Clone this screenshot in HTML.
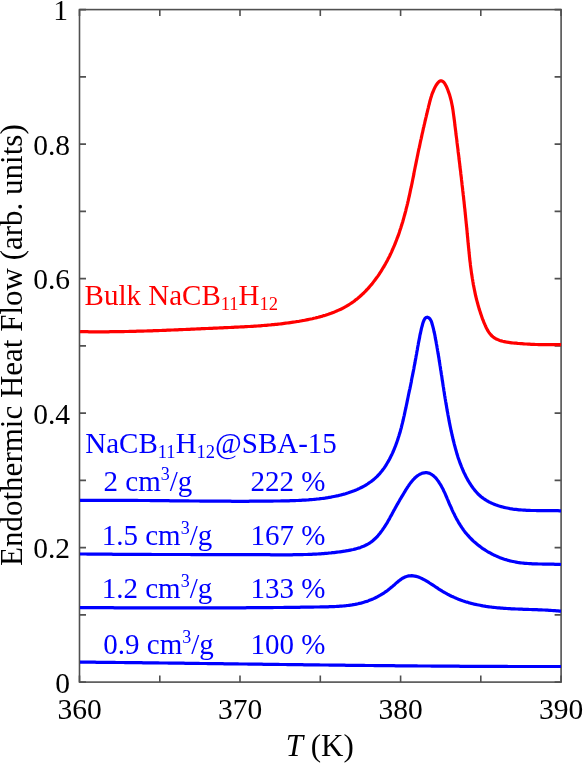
<!DOCTYPE html>
<html><head><meta charset="utf-8"><style>
html,body{margin:0;padding:0;background:#fff;width:583px;height:763px;overflow:hidden}
svg{position:absolute;left:0;top:0;will-change:transform}
.t{position:absolute;font-family:"Liberation Serif",serif;white-space:nowrap;line-height:1;color:#000}
sub,sup{line-height:0}
</style></head><body>
<svg width="583" height="763" viewBox="0 0 583 763" style="font-family:&quot;Liberation Serif&quot;,serif"><rect x="79.5" y="9.6" width="481.6" height="672.5" fill="none" stroke="#505050" stroke-width="1.6"/>
<path d="M79.5,682.1v-6.5M79.5,9.6v6.5M159.8,682.1v-6.5M159.8,9.6v6.5M240.0,682.1v-6.5M240.0,9.6v6.5M320.3,682.1v-6.5M320.3,9.6v6.5M400.6,682.1v-6.5M400.6,9.6v6.5M480.8,682.1v-6.5M480.8,9.6v6.5M561.1,682.1v-6.5M561.1,9.6v6.5M79.5,682.1h6.5M561.1,682.1h-6.5M79.5,614.9h6.5M561.1,614.9h-6.5M79.5,547.6h6.5M561.1,547.6h-6.5M79.5,480.4h6.5M561.1,480.4h-6.5M79.5,413.1h6.5M561.1,413.1h-6.5M79.5,345.9h6.5M561.1,345.9h-6.5M79.5,278.6h6.5M561.1,278.6h-6.5M79.5,211.4h6.5M561.1,211.4h-6.5M79.5,144.1h6.5M561.1,144.1h-6.5M79.5,76.9h6.5M561.1,76.9h-6.5M79.5,9.6h6.5M561.1,9.6h-6.5" stroke="#505050" stroke-width="1.6" fill="none"/>
<path d="M80.0,331.6 81.5,331.7 83.0,331.7 84.5,331.7 86.0,331.7 87.5,331.7 89.0,331.8 90.5,331.8 92.0,331.8 93.6,331.8 95.1,331.8 96.6,331.8 98.1,331.8 99.6,331.8 101.1,331.8 102.6,331.8 104.1,331.8 105.6,331.8 107.1,331.8 108.6,331.8 110.1,331.7 111.6,331.7 113.1,331.7 114.6,331.7 116.1,331.7 117.6,331.7 119.1,331.6 120.6,331.6 122.1,331.6 123.6,331.6 125.1,331.5 126.6,331.5 128.1,331.5 129.6,331.4 131.1,331.4 132.6,331.4 134.1,331.3 135.6,331.3 137.1,331.2 138.6,331.2 140.1,331.2 141.6,331.1 143.2,331.1 144.7,331.0 146.2,331.0 147.7,330.9 149.2,330.9 150.7,330.8 152.2,330.8 153.7,330.7 155.2,330.7 156.7,330.6 158.2,330.6 159.7,330.5 161.2,330.5 162.7,330.4 164.2,330.3 165.7,330.3 167.2,330.2 168.7,330.2 170.2,330.1 171.7,330.0 173.2,330.0 174.7,329.9 176.2,329.9 177.7,329.8 179.2,329.7 180.7,329.7 182.2,329.6 183.7,329.5 185.2,329.5 186.7,329.4 188.2,329.3 189.7,329.3 191.2,329.2 192.7,329.1 194.2,329.1 195.7,329.0 197.2,328.9 198.7,328.9 200.2,328.8 201.7,328.7 203.2,328.7 204.7,328.6 206.2,328.5 207.7,328.5 209.2,328.4 210.7,328.3 212.2,328.3 213.7,328.2 215.2,328.1 216.8,328.1 218.3,328.0 219.8,327.9 221.3,327.9 222.8,327.8 224.3,327.7 225.8,327.7 227.3,327.6 228.8,327.5 230.3,327.5 231.8,327.4 233.3,327.3 234.8,327.2 236.3,327.2 237.8,327.1 239.3,327.0 240.8,326.9 242.3,326.9 243.8,326.8 245.3,326.7 246.8,326.6 248.3,326.5 249.8,326.5 251.3,326.4 252.8,326.3 254.3,326.2 255.8,326.1 257.3,326.0 258.8,325.9 260.3,325.8 261.8,325.6 263.3,325.5 264.8,325.4 266.3,325.3 267.8,325.1 269.3,325.0 270.8,324.9 272.3,324.7 273.8,324.6 275.3,324.4 276.8,324.3 278.2,324.1 279.7,324.0 281.2,323.8 282.7,323.6 284.2,323.4 285.7,323.2 287.2,323.0 288.7,322.8 290.2,322.6 291.7,322.4 293.2,322.2 294.6,322.0 296.1,321.7 297.6,321.5 299.1,321.3 300.6,321.0 302.1,320.7 303.5,320.5 305.0,320.2 306.5,319.9 308.0,319.6 309.4,319.3 310.9,319.0 312.4,318.7 313.8,318.3 315.3,318.0 316.8,317.6 318.2,317.3 319.7,316.9 321.1,316.5 322.6,316.1 324.0,315.6 325.4,315.2 326.9,314.7 328.3,314.3 329.7,313.8 331.1,313.3 332.5,312.7 333.9,312.2 335.3,311.6 336.7,311.0 338.1,310.4 339.5,309.8 340.8,309.2 342.2,308.5 343.5,307.8 344.8,307.1 346.1,306.4 347.4,305.6 348.7,304.8 350.0,304.0 351.3,303.2 352.5,302.3 353.7,301.5 354.9,300.6 356.1,299.6 357.3,298.7 358.4,297.8 359.6,296.8 360.7,295.8 361.8,294.8 362.9,293.7 364.0,292.7 365.1,291.6 366.1,290.5 367.1,289.5 368.2,288.3 369.2,287.2 370.1,286.1 371.1,284.9 372.1,283.8 373.0,282.6 373.9,281.4 374.8,280.2 375.7,279.0 376.6,277.8 377.5,276.6 378.4,275.3 379.2,274.1 380.0,272.8 380.8,271.6 381.6,270.3 382.4,269.0 383.2,267.7 384.0,266.5 384.7,265.1 385.5,263.8 386.2,262.5 386.9,261.2 387.6,259.9 388.3,258.5 389.0,257.2 389.7,255.9 390.3,254.5 391.0,253.1 391.6,251.8 392.2,250.4 392.8,249.0 393.4,247.7 394.0,246.3 394.6,244.9 395.2,243.5 395.7,242.1 396.3,240.7 396.8,239.3 397.3,237.9 397.9,236.5 398.4,235.1 398.9,233.7 399.4,232.2 399.8,230.8 400.3,229.4 400.8,228.0 401.2,226.5 401.7,225.1 402.1,223.6 402.6,222.2 403.0,220.8 403.4,219.3 403.8,217.9 404.2,216.4 404.6,215.0 405.0,213.5 405.4,212.1 405.8,210.6 406.1,209.2 406.5,207.7 406.9,206.2 407.2,204.8 407.6,203.3 407.9,201.9 408.3,200.4 408.6,198.9 408.9,197.5 409.3,196.0 409.6,194.5 409.9,193.1 410.2,191.6 410.5,190.1 410.8,188.6 411.2,187.2 411.5,185.7 411.8,184.2 412.1,182.8 412.4,181.3 412.7,179.8 413.0,178.3 413.3,176.9 413.6,175.4 413.9,173.9 414.1,172.4 414.4,171.0 414.7,169.5 415.0,168.0 415.3,166.5 415.6,165.1 415.9,163.6 416.2,162.1 416.5,160.7 416.8,159.2 417.1,157.7 417.4,156.2 417.7,154.8 418.0,153.3 418.3,151.8 418.6,150.3 418.9,148.9 419.3,147.4 419.6,145.9 419.9,144.5 420.2,143.0 420.5,141.5 420.8,140.1 421.2,138.6 421.5,137.1 421.8,135.7 422.1,134.2 422.5,132.7 422.8,131.2 423.1,129.8 423.4,128.3 423.8,126.9 424.1,125.4 424.5,123.9 424.8,122.5 425.1,121.0 425.5,119.5 425.8,118.1 426.2,116.6 426.5,115.1 426.9,113.7 427.2,112.2 427.6,110.8 427.9,109.3 428.3,107.8 428.6,106.4 429.0,104.9 429.4,103.5 429.7,102.0 430.1,100.5 430.5,99.1 430.9,97.6 431.4,96.2 431.8,94.8 432.3,93.4 432.9,92.0 433.5,90.6 434.1,89.2 434.7,87.9 435.4,86.5 436.2,85.2 437.0,84.0 437.9,82.8 439.0,81.7 440.3,80.9 441.7,80.8 443.1,81.6 444.1,82.6 445.0,83.9 445.7,85.2 446.4,86.5 447.0,87.9 447.6,89.3 448.1,90.7 448.6,92.1 449.1,93.5 449.6,94.9 450.0,96.4 450.4,97.8 450.8,99.3 451.2,100.7 451.5,102.2 451.8,103.7 452.1,105.2 452.4,106.6 452.6,108.1 452.9,109.6 453.1,111.1 453.3,112.6 453.5,114.1 453.7,115.6 453.9,117.0 454.1,118.5 454.3,120.0 454.5,121.5 454.7,123.0 454.8,124.5 455.0,126.0 455.2,127.5 455.4,129.0 455.6,130.5 455.8,132.0 455.9,133.5 456.1,134.9 456.3,136.4 456.5,137.9 456.7,139.4 456.9,140.9 457.0,142.4 457.2,143.9 457.4,145.4 457.6,146.9 457.8,148.4 458.0,149.9 458.1,151.4 458.3,152.8 458.5,154.3 458.7,155.8 458.9,157.3 459.0,158.8 459.2,160.3 459.4,161.8 459.6,163.3 459.8,164.8 459.9,166.3 460.1,167.8 460.3,169.3 460.5,170.8 460.7,172.3 460.8,173.7 461.0,175.2 461.2,176.7 461.4,178.2 461.5,179.7 461.7,181.2 461.9,182.7 462.0,184.2 462.2,185.7 462.4,187.2 462.6,188.7 462.7,190.2 462.9,191.7 463.1,193.2 463.2,194.7 463.4,196.1 463.6,197.6 463.7,199.1 463.9,200.6 464.1,202.1 464.2,203.6 464.4,205.1 464.5,206.6 464.7,208.1 464.9,209.6 465.0,211.1 465.2,212.6 465.3,214.1 465.5,215.6 465.6,217.1 465.8,218.6 465.9,220.1 466.1,221.6 466.2,223.1 466.4,224.6 466.5,226.1 466.7,227.5 466.8,229.0 467.0,230.5 467.1,232.0 467.2,233.5 467.4,235.0 467.5,236.5 467.7,238.0 467.8,239.5 467.9,241.0 468.1,242.5 468.2,244.0 468.4,245.5 468.5,247.0 468.7,248.5 468.8,250.0 469.0,251.5 469.1,253.0 469.3,254.5 469.4,256.0 469.6,257.5 469.7,259.0 469.9,260.5 470.1,262.0 470.3,263.4 470.4,264.9 470.6,266.4 470.8,267.9 471.0,269.4 471.2,270.9 471.4,272.4 471.6,273.9 471.9,275.4 472.1,276.9 472.3,278.3 472.6,279.8 472.8,281.3 473.1,282.8 473.3,284.3 473.6,285.7 473.9,287.2 474.2,288.7 474.5,290.2 474.8,291.6 475.1,293.1 475.4,294.6 475.7,296.0 476.1,297.5 476.4,299.0 476.8,300.4 477.2,301.9 477.6,303.3 478.0,304.8 478.4,306.2 478.8,307.7 479.2,309.1 479.7,310.5 480.2,312.0 480.6,313.4 481.1,314.8 481.6,316.2 482.1,317.7 482.6,319.1 483.2,320.5 483.7,321.9 484.3,323.3 484.9,324.7 485.5,326.0 486.1,327.4 486.8,328.7 487.5,330.1 488.3,331.4 489.1,332.6 490.0,333.8 491.0,335.0 492.0,336.0 493.2,337.0 494.4,337.9 495.7,338.7 497.0,339.3 498.4,339.9 499.8,340.5 501.2,340.9 502.7,341.3 504.1,341.6 505.6,341.9 507.1,342.2 508.6,342.4 510.1,342.6 511.6,342.8 513.1,343.0 514.6,343.1 516.1,343.2 517.6,343.4 519.1,343.5 520.6,343.6 522.0,343.7 523.5,343.8 525.0,344.0 526.5,344.0 528.0,344.1 529.6,344.2 531.1,344.3 532.6,344.4 534.1,344.4 535.6,344.5 537.1,344.5 538.6,344.6 540.1,344.6 541.6,344.6 543.1,344.7 544.6,344.7 546.1,344.7 547.6,344.7 549.1,344.7 550.6,344.7 552.1,344.7 553.6,344.7 555.1,344.7 556.6,344.7 558.1,344.7 559.6,344.7 561.1,344.7" stroke="#ff0000" stroke-width="3.2" fill="none" stroke-linejoin="round" stroke-linecap="butt"/>
<path d="M80.0,500.4 81.5,500.4 83.0,500.4 84.5,500.4 86.0,500.4 87.5,500.4 89.0,500.4 90.5,500.4 92.0,500.3 93.5,500.3 95.1,500.3 96.6,500.3 98.1,500.3 99.6,500.3 101.1,500.3 102.6,500.3 104.1,500.3 105.6,500.3 107.1,500.3 108.6,500.3 110.1,500.3 111.6,500.3 113.1,500.3 114.6,500.3 116.1,500.3 117.6,500.3 119.1,500.3 120.6,500.3 122.1,500.3 123.6,500.4 125.1,500.4 126.6,500.4 128.1,500.4 129.6,500.4 131.1,500.4 132.6,500.4 134.1,500.4 135.6,500.4 137.2,500.4 138.7,500.5 140.2,500.5 141.7,500.5 143.2,500.5 144.7,500.5 146.2,500.5 147.7,500.5 149.2,500.5 150.7,500.6 152.2,500.6 153.7,500.6 155.2,500.6 156.7,500.6 158.2,500.6 159.7,500.6 161.2,500.7 162.7,500.7 164.2,500.7 165.7,500.7 167.2,500.7 168.7,500.7 170.2,500.8 171.7,500.8 173.2,500.8 174.7,500.8 176.2,500.8 177.7,500.8 179.3,500.9 180.8,500.9 182.3,500.9 183.8,500.9 185.3,500.9 186.8,500.9 188.3,500.9 189.8,501.0 191.3,501.0 192.8,501.0 194.3,501.0 195.8,501.0 197.3,501.0 198.8,501.0 200.3,501.1 201.8,501.1 203.3,501.1 204.8,501.1 206.3,501.1 207.8,501.1 209.3,501.1 210.8,501.1 212.3,501.2 213.8,501.2 215.3,501.2 216.8,501.2 218.3,501.2 219.8,501.2 221.4,501.2 222.9,501.2 224.4,501.2 225.9,501.2 227.4,501.2 228.9,501.2 230.4,501.2 231.9,501.3 233.4,501.3 234.9,501.3 236.4,501.3 237.9,501.3 239.4,501.3 240.9,501.3 242.4,501.3 243.9,501.3 245.4,501.3 246.9,501.3 248.4,501.3 249.9,501.2 251.4,501.2 252.9,501.2 254.4,501.2 255.9,501.2 257.4,501.2 258.9,501.2 260.4,501.2 261.9,501.2 263.5,501.2 265.0,501.2 266.5,501.1 268.0,501.1 269.5,501.1 271.0,501.1 272.5,501.1 274.0,501.0 275.5,501.0 277.0,501.0 278.5,501.0 280.0,501.0 281.5,500.9 283.0,500.9 284.5,500.9 286.0,500.8 287.5,500.8 289.0,500.8 290.5,500.7 292.0,500.7 293.5,500.6 295.0,500.6 296.5,500.5 298.0,500.5 299.5,500.4 301.0,500.3 302.5,500.2 304.0,500.2 305.5,500.1 307.0,500.0 308.5,499.9 310.0,499.7 311.5,499.6 313.0,499.5 314.5,499.3 316.0,499.2 317.5,499.0 319.0,498.9 320.5,498.7 322.0,498.5 323.5,498.3 325.0,498.1 326.5,497.8 327.9,497.6 329.4,497.3 330.9,497.1 332.4,496.8 333.9,496.5 335.3,496.2 336.8,495.9 338.3,495.6 339.7,495.2 341.2,494.9 342.6,494.5 344.1,494.1 345.5,493.7 347.0,493.2 348.4,492.8 349.8,492.3 351.3,491.8 352.7,491.3 354.1,490.8 355.5,490.2 356.9,489.6 358.2,489.0 359.6,488.4 360.9,487.7 362.3,487.0 363.6,486.3 364.9,485.6 366.2,484.8 367.5,484.0 368.7,483.2 370.0,482.3 371.2,481.5 372.4,480.5 373.6,479.6 374.7,478.6 375.8,477.6 376.9,476.6 378.0,475.5 379.0,474.4 380.0,473.3 381.0,472.1 381.9,471.0 382.8,469.8 383.7,468.6 384.6,467.3 385.4,466.1 386.2,464.8 387.0,463.5 387.8,462.2 388.5,460.9 389.3,459.6 390.0,458.3 390.6,456.9 391.3,455.6 392.0,454.2 392.6,452.9 393.2,451.5 393.8,450.1 394.4,448.7 394.9,447.3 395.5,445.9 396.0,444.5 396.5,443.1 397.0,441.7 397.5,440.3 398.0,438.9 398.4,437.4 398.9,436.0 399.3,434.5 399.8,433.1 400.2,431.7 400.6,430.2 401.0,428.8 401.4,427.3 401.7,425.9 402.1,424.4 402.5,422.9 402.8,421.5 403.2,420.0 403.5,418.5 403.8,417.1 404.2,415.6 404.5,414.1 404.8,412.7 405.1,411.2 405.4,409.7 405.8,408.3 406.1,406.8 406.4,405.3 406.7,403.9 407.0,402.4 407.3,400.9 407.6,399.4 407.9,398.0 408.2,396.5 408.5,395.0 408.8,393.5 409.1,392.1 409.4,390.6 409.8,389.1 410.1,387.7 410.4,386.2 410.7,384.7 411.0,383.2 411.3,381.8 411.5,380.3 411.8,378.8 412.1,377.3 412.4,375.9 412.7,374.4 413.0,372.9 413.3,371.4 413.6,370.0 413.9,368.5 414.1,367.0 414.4,365.5 414.7,364.1 415.0,362.6 415.2,361.1 415.5,359.6 415.8,358.1 416.0,356.7 416.3,355.2 416.6,353.7 416.8,352.2 417.1,350.7 417.4,349.3 417.6,347.8 417.9,346.3 418.2,344.8 418.4,343.3 418.7,341.9 419.0,340.4 419.3,338.9 419.6,337.4 419.8,336.0 420.1,334.5 420.5,333.0 420.8,331.5 421.1,330.1 421.4,328.6 421.8,327.1 422.2,325.7 422.6,324.2 423.0,322.8 423.5,321.4 424.1,320.0 424.8,318.7 425.9,317.6 427.3,317.2 428.7,317.7 429.8,318.7 430.6,320.0 431.3,321.3 431.8,322.8 432.2,324.2 432.6,325.6 433.0,327.1 433.4,328.6 433.7,330.0 434.0,331.5 434.4,333.0 434.7,334.4 435.0,335.9 435.2,337.4 435.5,338.9 435.8,340.3 436.1,341.8 436.3,343.3 436.6,344.8 436.9,346.3 437.1,347.7 437.4,349.2 437.6,350.7 437.9,352.2 438.1,353.7 438.4,355.1 438.6,356.6 438.9,358.1 439.1,359.6 439.3,361.1 439.6,362.6 439.8,364.1 440.0,365.5 440.3,367.0 440.5,368.5 440.7,370.0 441.0,371.5 441.2,373.0 441.4,374.5 441.7,375.9 441.9,377.4 442.1,378.9 442.3,380.4 442.6,381.9 442.8,383.4 443.0,384.9 443.2,386.3 443.5,387.8 443.7,389.3 443.9,390.8 444.2,392.3 444.4,393.8 444.6,395.3 444.9,396.7 445.1,398.2 445.4,399.7 445.6,401.2 445.9,402.7 446.1,404.2 446.4,405.6 446.6,407.1 446.9,408.6 447.1,410.1 447.4,411.6 447.7,413.0 447.9,414.5 448.2,416.0 448.5,417.5 448.8,419.0 449.0,420.4 449.3,421.9 449.6,423.4 449.9,424.9 450.2,426.3 450.5,427.8 450.8,429.3 451.1,430.8 451.5,432.2 451.8,433.7 452.1,435.2 452.5,436.6 452.8,438.1 453.1,439.5 453.5,441.0 453.9,442.5 454.2,443.9 454.6,445.4 455.0,446.8 455.4,448.3 455.8,449.7 456.2,451.2 456.6,452.6 457.0,454.1 457.5,455.5 457.9,456.9 458.4,458.4 458.9,459.8 459.4,461.2 459.9,462.6 460.4,464.0 461.0,465.4 461.5,466.8 462.1,468.2 462.7,469.6 463.3,471.0 463.9,472.4 464.6,473.7 465.2,475.1 465.9,476.4 466.6,477.7 467.3,479.1 468.0,480.4 468.8,481.7 469.6,483.0 470.4,484.2 471.2,485.5 472.1,486.7 472.9,487.9 473.9,489.1 474.8,490.3 475.8,491.4 476.8,492.6 477.8,493.7 478.9,494.7 480.0,495.7 481.1,496.7 482.3,497.6 483.5,498.5 484.8,499.4 486.0,500.2 487.3,501.0 488.6,501.7 490.0,502.4 491.3,503.0 492.7,503.6 494.1,504.2 495.5,504.8 496.9,505.3 498.3,505.8 499.8,506.2 501.2,506.6 502.7,507.0 504.1,507.4 505.6,507.7 507.1,508.0 508.5,508.3 510.0,508.6 511.5,508.8 513.0,509.1 514.5,509.3 516.0,509.4 517.5,509.6 519.0,509.8 520.5,509.9 521.9,510.0 523.4,510.1 525.0,510.2 526.5,510.3 528.0,510.4 529.5,510.4 531.0,510.5 532.5,510.5 534.0,510.5 535.5,510.5 537.0,510.6 538.5,510.6 540.0,510.6 541.5,510.6 543.0,510.6 544.5,510.6 546.0,510.6 547.5,510.6 549.0,510.6 550.5,510.6 552.0,510.6 553.5,510.6 555.0,510.7 556.5,510.7 558.0,510.7 559.5,510.8 561.0,510.8" stroke="#0000ff" stroke-width="3.2" fill="none" stroke-linejoin="round" stroke-linecap="butt"/>
<path d="M80.0,554.0 81.5,554.0 83.0,554.0 84.5,554.0 86.0,554.0 87.5,554.1 89.0,554.1 90.5,554.1 92.0,554.1 93.5,554.1 95.0,554.1 96.6,554.1 98.1,554.1 99.6,554.2 101.1,554.2 102.6,554.2 104.1,554.2 105.6,554.2 107.1,554.2 108.6,554.2 110.1,554.2 111.6,554.2 113.1,554.3 114.6,554.3 116.1,554.3 117.6,554.3 119.1,554.3 120.6,554.3 122.1,554.3 123.6,554.3 125.1,554.3 126.6,554.3 128.1,554.3 129.6,554.4 131.1,554.4 132.6,554.4 134.1,554.4 135.7,554.4 137.2,554.4 138.7,554.4 140.2,554.4 141.7,554.4 143.2,554.4 144.7,554.4 146.2,554.4 147.7,554.4 149.2,554.4 150.7,554.4 152.2,554.5 153.7,554.5 155.2,554.5 156.7,554.5 158.2,554.5 159.7,554.5 161.2,554.5 162.7,554.5 164.2,554.5 165.7,554.5 167.2,554.5 168.7,554.5 170.2,554.5 171.7,554.5 173.2,554.5 174.8,554.5 176.3,554.5 177.8,554.5 179.3,554.5 180.8,554.5 182.3,554.5 183.8,554.5 185.3,554.5 186.8,554.5 188.3,554.5 189.8,554.5 191.3,554.6 192.8,554.6 194.3,554.6 195.8,554.6 197.3,554.6 198.8,554.6 200.3,554.6 201.8,554.6 203.3,554.6 204.8,554.6 206.3,554.6 207.8,554.6 209.3,554.6 210.8,554.6 212.3,554.6 213.9,554.6 215.4,554.6 216.9,554.6 218.4,554.6 219.9,554.6 221.4,554.6 222.9,554.6 224.4,554.6 225.9,554.6 227.4,554.6 228.9,554.6 230.4,554.6 231.9,554.6 233.4,554.6 234.9,554.6 236.4,554.6 237.9,554.6 239.4,554.6 240.9,554.7 242.4,554.7 243.9,554.7 245.4,554.7 246.9,554.7 248.4,554.7 249.9,554.7 251.4,554.7 253.0,554.7 254.5,554.7 256.0,554.7 257.5,554.7 259.0,554.7 260.5,554.7 262.0,554.7 263.5,554.7 265.0,554.7 266.5,554.7 268.0,554.7 269.5,554.7 271.0,554.8 272.5,554.8 274.0,554.8 275.5,554.8 277.0,554.8 278.5,554.8 280.0,554.8 281.5,554.8 283.0,554.8 284.5,554.8 286.0,554.8 287.5,554.8 289.0,554.8 290.5,554.8 292.0,554.8 293.6,554.7 295.1,554.7 296.6,554.7 298.1,554.7 299.6,554.7 301.1,554.6 302.6,554.6 304.1,554.5 305.6,554.5 307.1,554.5 308.6,554.4 310.1,554.3 311.6,554.3 313.1,554.2 314.6,554.1 316.1,554.1 317.6,554.0 319.1,553.9 320.6,553.8 322.1,553.7 323.6,553.6 325.1,553.4 326.6,553.3 328.1,553.2 329.6,553.0 331.1,552.9 332.6,552.7 334.1,552.6 335.6,552.4 337.1,552.2 338.6,552.0 340.0,551.8 341.5,551.6 343.0,551.4 344.5,551.2 346.0,550.9 347.5,550.7 349.0,550.4 350.4,550.1 351.9,549.8 353.4,549.5 354.8,549.1 356.3,548.7 357.7,548.3 359.2,547.9 360.6,547.4 362.0,546.8 363.4,546.3 364.8,545.7 366.1,545.0 367.4,544.3 368.7,543.6 370.0,542.8 371.3,541.9 372.5,541.0 373.6,540.0 374.7,539.0 375.8,538.0 376.9,536.9 377.9,535.8 378.9,534.6 379.8,533.5 380.7,532.3 381.6,531.1 382.5,529.9 383.3,528.6 384.2,527.4 385.0,526.1 385.8,524.8 386.6,523.6 387.4,522.3 388.1,521.0 388.9,519.7 389.6,518.4 390.3,517.0 391.1,515.7 391.8,514.4 392.5,513.1 393.2,511.8 393.9,510.4 394.7,509.1 395.4,507.8 396.1,506.5 396.8,505.2 397.6,503.9 398.3,502.6 399.1,501.2 399.8,499.9 400.6,498.7 401.3,497.4 402.1,496.1 402.9,494.8 403.7,493.5 404.5,492.2 405.2,490.9 406.0,489.6 406.8,488.4 407.6,487.1 408.5,485.9 409.3,484.6 410.2,483.4 411.1,482.2 412.1,481.0 413.0,479.9 414.1,478.8 415.1,477.7 416.3,476.7 417.4,475.8 418.7,475.0 420.0,474.2 421.4,473.6 422.8,473.1 424.3,472.8 425.7,472.7 427.2,472.7 428.7,473.1 430.1,473.6 431.4,474.3 432.7,475.2 433.8,476.1 434.9,477.1 436.0,478.2 436.9,479.4 437.8,480.6 438.7,481.8 439.5,483.1 440.3,484.3 441.1,485.6 441.8,487.0 442.5,488.3 443.2,489.6 443.8,491.0 444.5,492.4 445.1,493.7 445.7,495.1 446.3,496.5 446.9,497.9 447.5,499.3 448.1,500.6 448.6,502.0 449.2,503.4 449.8,504.8 450.5,506.2 451.1,507.5 451.7,508.9 452.3,510.3 452.9,511.6 453.6,513.0 454.3,514.3 454.9,515.7 455.6,517.0 456.3,518.4 457.0,519.7 457.8,521.0 458.5,522.3 459.3,523.6 460.1,524.9 460.9,526.1 461.7,527.4 462.6,528.6 463.4,529.9 464.3,531.1 465.2,532.3 466.2,533.4 467.2,534.6 468.2,535.7 469.2,536.8 470.2,537.9 471.3,539.0 472.3,540.0 473.4,541.1 474.5,542.1 475.7,543.1 476.8,544.0 478.0,545.0 479.2,545.9 480.4,546.8 481.6,547.7 482.8,548.6 484.1,549.4 485.3,550.2 486.6,551.0 487.9,551.8 489.2,552.5 490.5,553.2 491.9,554.0 493.2,554.6 494.5,555.3 495.9,555.9 497.3,556.5 498.7,557.1 500.1,557.7 501.5,558.2 502.9,558.7 504.3,559.2 505.7,559.6 507.2,560.1 508.6,560.5 510.1,560.9 511.6,561.2 513.0,561.5 514.5,561.8 516.0,562.1 517.5,562.4 518.9,562.6 520.4,562.8 521.9,563.0 523.4,563.1 524.9,563.3 526.4,563.4 527.9,563.5 529.4,563.6 530.9,563.7 532.4,563.8 533.9,563.8 535.4,563.9 536.9,563.9 538.4,564.0 539.9,564.0 541.4,564.0 542.9,564.1 544.4,564.1 545.9,564.1 547.5,564.1 549.0,564.1 550.5,564.2 552.0,564.2 553.5,564.2 555.0,564.3 556.5,564.3 558.0,564.3 559.5,564.4 561.0,564.5" stroke="#0000ff" stroke-width="3.2" fill="none" stroke-linejoin="round" stroke-linecap="butt"/>
<path d="M80.0,607.7 81.5,607.7 83.0,607.7 84.5,607.7 86.0,607.7 87.5,607.7 89.0,607.7 90.5,607.7 92.0,607.7 93.5,607.7 95.0,607.7 96.5,607.7 98.0,607.7 99.5,607.7 101.0,607.7 102.5,607.7 104.0,607.7 105.5,607.7 107.0,607.7 108.5,607.7 110.0,607.7 111.5,607.7 113.0,607.7 114.5,607.8 116.0,607.8 117.6,607.8 119.1,607.8 120.6,607.8 122.1,607.8 123.6,607.8 125.1,607.8 126.6,607.8 128.1,607.8 129.6,607.8 131.1,607.8 132.6,607.8 134.1,607.8 135.6,607.8 137.1,607.8 138.6,607.8 140.1,607.8 141.6,607.8 143.1,607.8 144.6,607.8 146.1,607.8 147.6,607.8 149.1,607.8 150.6,607.8 152.1,607.8 153.6,607.8 155.2,607.8 156.7,607.8 158.2,607.8 159.7,607.8 161.2,607.9 162.7,607.9 164.2,607.9 165.7,607.9 167.2,607.9 168.7,607.9 170.2,607.9 171.7,607.9 173.2,607.9 174.7,607.9 176.2,607.9 177.7,607.9 179.2,607.9 180.7,607.9 182.2,607.9 183.7,607.9 185.2,607.9 186.7,607.9 188.2,607.9 189.7,607.9 191.2,607.9 192.7,607.9 194.3,607.9 195.8,607.9 197.3,607.9 198.8,607.9 200.3,607.9 201.8,607.9 203.3,607.9 204.8,607.9 206.3,607.9 207.8,607.9 209.3,607.9 210.8,607.9 212.3,607.9 213.8,607.9 215.3,607.9 216.8,607.9 218.3,607.9 219.8,607.8 221.3,607.8 222.8,607.8 224.3,607.8 225.8,607.8 227.3,607.8 228.8,607.8 230.3,607.8 231.9,607.8 233.4,607.8 234.9,607.8 236.4,607.8 237.9,607.8 239.4,607.8 240.9,607.8 242.4,607.8 243.9,607.8 245.4,607.8 246.9,607.7 248.4,607.7 249.9,607.7 251.4,607.7 252.9,607.7 254.4,607.7 255.9,607.7 257.4,607.7 258.9,607.7 260.4,607.7 261.9,607.6 263.4,607.6 264.9,607.6 266.4,607.6 267.9,607.6 269.4,607.6 271.0,607.6 272.5,607.6 274.0,607.5 275.5,607.5 277.0,607.5 278.5,607.5 280.0,607.5 281.5,607.5 283.0,607.5 284.5,607.4 286.0,607.4 287.5,607.4 289.0,607.4 290.5,607.4 292.0,607.4 293.5,607.3 295.0,607.3 296.5,607.3 298.0,607.3 299.5,607.3 301.0,607.2 302.5,607.2 304.0,607.2 305.5,607.2 307.0,607.2 308.5,607.1 310.1,607.1 311.6,607.1 313.1,607.1 314.6,607.0 316.1,607.0 317.6,607.0 319.1,607.0 320.6,606.9 322.1,606.9 323.6,606.9 325.1,606.8 326.6,606.8 328.1,606.8 329.6,606.7 331.1,606.7 332.6,606.6 334.1,606.6 335.6,606.5 337.1,606.4 338.6,606.3 340.1,606.2 341.6,606.1 343.1,606.0 344.6,605.8 346.1,605.7 347.6,605.5 349.1,605.3 350.6,605.1 352.1,604.9 353.5,604.6 355.0,604.4 356.5,604.1 358.0,603.8 359.4,603.4 360.9,603.1 362.4,602.7 363.8,602.3 365.2,601.8 366.7,601.4 368.1,600.9 369.5,600.3 370.9,599.8 372.3,599.2 373.7,598.6 375.0,598.0 376.4,597.3 377.7,596.6 379.0,595.9 380.3,595.2 381.6,594.4 382.9,593.6 384.2,592.8 385.4,591.9 386.6,591.1 387.8,590.2 389.0,589.2 390.2,588.3 391.4,587.3 392.5,586.4 393.6,585.4 394.8,584.4 395.9,583.4 397.0,582.4 398.2,581.4 399.4,580.5 400.6,579.6 401.8,578.7 403.1,578.0 404.4,577.3 405.8,576.7 407.3,576.3 408.7,575.9 410.2,575.8 411.7,575.7 413.2,575.9 414.7,576.1 416.2,576.4 417.6,576.8 419.0,577.3 420.4,577.9 421.8,578.5 423.1,579.2 424.5,579.9 425.8,580.6 427.1,581.4 428.4,582.2 429.6,583.0 430.9,583.8 432.2,584.6 433.4,585.4 434.7,586.3 435.9,587.1 437.2,587.9 438.4,588.8 439.7,589.6 441.0,590.4 442.2,591.2 443.5,592.0 444.8,592.7 446.1,593.4 447.5,594.2 448.8,594.8 450.1,595.5 451.5,596.2 452.9,596.8 454.2,597.4 455.6,598.0 457.0,598.6 458.4,599.2 459.8,599.7 461.2,600.3 462.6,600.8 464.0,601.2 465.5,601.7 466.9,602.1 468.4,602.6 469.8,603.0 471.3,603.4 472.7,603.7 474.2,604.1 475.6,604.4 477.1,604.7 478.6,605.0 480.1,605.3 481.5,605.6 483.0,605.9 484.5,606.1 486.0,606.4 487.5,606.6 489.0,606.8 490.5,607.0 491.9,607.2 493.4,607.3 494.9,607.5 496.4,607.7 497.9,607.8 499.4,607.9 500.9,608.1 502.4,608.2 503.9,608.3 505.4,608.4 506.9,608.5 508.4,608.6 509.9,608.7 511.4,608.8 512.9,608.8 514.4,608.9 515.9,609.0 517.4,609.0 518.9,609.1 520.4,609.2 521.9,609.2 523.4,609.3 525.0,609.3 526.5,609.4 528.0,609.4 529.5,609.5 531.0,609.5 532.5,609.6 534.0,609.6 535.5,609.7 537.0,609.7 538.5,609.8 540.0,609.8 541.5,609.9 543.0,610.0 544.5,610.0 546.0,610.1 547.5,610.2 549.0,610.3 550.5,610.4 552.0,610.5 553.5,610.6 555.0,610.7 556.5,610.8 558.0,610.9 559.5,611.1 561.0,611.2" stroke="#0000ff" stroke-width="3.2" fill="none" stroke-linejoin="round" stroke-linecap="butt"/>
<path d="M80.0,662.1 81.5,662.1 83.0,662.1 84.5,662.1 86.0,662.1 87.5,662.2 89.0,662.2 90.5,662.2 92.0,662.2 93.5,662.2 95.0,662.2 96.5,662.3 98.0,662.3 99.5,662.3 101.0,662.3 102.5,662.3 104.1,662.3 105.6,662.3 107.1,662.4 108.6,662.4 110.1,662.4 111.6,662.4 113.1,662.4 114.6,662.4 116.1,662.5 117.6,662.5 119.1,662.5 120.6,662.5 122.1,662.5 123.6,662.5 125.1,662.6 126.6,662.6 128.1,662.6 129.6,662.6 131.1,662.6 132.6,662.6 134.1,662.7 135.6,662.7 137.1,662.7 138.6,662.7 140.1,662.7 141.6,662.7 143.1,662.8 144.6,662.8 146.1,662.8 147.6,662.8 149.1,662.8 150.6,662.8 152.1,662.9 153.7,662.9 155.2,662.9 156.7,662.9 158.2,662.9 159.7,663.0 161.2,663.0 162.7,663.0 164.2,663.0 165.7,663.0 167.2,663.0 168.7,663.1 170.2,663.1 171.7,663.1 173.2,663.1 174.7,663.1 176.2,663.2 177.7,663.2 179.2,663.2 180.7,663.2 182.2,663.2 183.7,663.2 185.2,663.3 186.7,663.3 188.2,663.3 189.7,663.3 191.2,663.3 192.7,663.4 194.2,663.4 195.7,663.4 197.2,663.4 198.7,663.4 200.2,663.5 201.8,663.5 203.3,663.5 204.8,663.5 206.3,663.5 207.8,663.6 209.3,663.6 210.8,663.6 212.3,663.6 213.8,663.6 215.3,663.6 216.8,663.7 218.3,663.7 219.8,663.7 221.3,663.7 222.8,663.7 224.3,663.8 225.8,663.8 227.3,663.8 228.8,663.8 230.3,663.8 231.8,663.9 233.3,663.9 234.8,663.9 236.3,663.9 237.8,663.9 239.3,664.0 240.8,664.0 242.3,664.0 243.8,664.0 245.3,664.0 246.8,664.0 248.3,664.1 249.8,664.1 251.4,664.1 252.9,664.1 254.4,664.1 255.9,664.2 257.4,664.2 258.9,664.2 260.4,664.2 261.9,664.2 263.4,664.3 264.9,664.3 266.4,664.3 267.9,664.3 269.4,664.3 270.9,664.4 272.4,664.4 273.9,664.4 275.4,664.4 276.9,664.4 278.4,664.4 279.9,664.5 281.4,664.5 282.9,664.5 284.4,664.5 285.9,664.5 287.4,664.6 288.9,664.6 290.4,664.6 291.9,664.6 293.4,664.6 294.9,664.7 296.4,664.7 297.9,664.7 299.5,664.7 301.0,664.7 302.5,664.7 304.0,664.8 305.5,664.8 307.0,664.8 308.5,664.8 310.0,664.8 311.5,664.9 313.0,664.9 314.5,664.9 316.0,664.9 317.5,664.9 319.0,664.9 320.5,665.0 322.0,665.0 323.5,665.0 325.0,665.0 326.5,665.0 328.0,665.0 329.5,665.1 331.0,665.1 332.5,665.1 334.0,665.1 335.5,665.1 337.0,665.2 338.5,665.2 340.0,665.2 341.5,665.2 343.0,665.2 344.5,665.2 346.0,665.3 347.6,665.3 349.1,665.3 350.6,665.3 352.1,665.3 353.6,665.3 355.1,665.4 356.6,665.4 358.1,665.4 359.6,665.4 361.1,665.4 362.6,665.4 364.1,665.4 365.6,665.5 367.1,665.5 368.6,665.5 370.1,665.5 371.6,665.5 373.1,665.5 374.6,665.6 376.1,665.6 377.6,665.6 379.1,665.6 380.6,665.6 382.1,665.6 383.6,665.6 385.1,665.7 386.6,665.7 388.1,665.7 389.6,665.7 391.1,665.7 392.6,665.7 394.1,665.7 395.7,665.8 397.2,665.8 398.7,665.8 400.2,665.8 401.7,665.8 403.2,665.8 404.7,665.8 406.2,665.9 407.7,665.9 409.2,665.9 410.7,665.9 412.2,665.9 413.7,665.9 415.2,665.9 416.7,665.9 418.2,666.0 419.7,666.0 421.2,666.0 422.7,666.0 424.2,666.0 425.7,666.0 427.2,666.0 428.7,666.0 430.2,666.0 431.7,666.1 433.2,666.1 434.7,666.1 436.2,666.1 437.7,666.1 439.2,666.1 440.7,666.1 442.2,666.1 443.8,666.1 445.3,666.2 446.8,666.2 448.3,666.2 449.8,666.2 451.3,666.2 452.8,666.2 454.3,666.2 455.8,666.2 457.3,666.2 458.8,666.2 460.3,666.3 461.8,666.3 463.3,666.3 464.8,666.3 466.3,666.3 467.8,666.3 469.3,666.3 470.8,666.3 472.3,666.3 473.8,666.3 475.3,666.3 476.8,666.3 478.3,666.3 479.8,666.4 481.3,666.4 482.8,666.4 484.3,666.4 485.8,666.4 487.3,666.4 488.8,666.4 490.3,666.4 491.9,666.4 493.4,666.4 494.9,666.4 496.4,666.4 497.9,666.4 499.4,666.4 500.9,666.4 502.4,666.4 503.9,666.4 505.4,666.4 506.9,666.4 508.4,666.5 509.9,666.5 511.4,666.5 512.9,666.5 514.4,666.5 515.9,666.5 517.4,666.5 518.9,666.5 520.4,666.5 521.9,666.5 523.4,666.5 524.9,666.5 526.4,666.5 527.9,666.5 529.4,666.5 530.9,666.5 532.4,666.5 533.9,666.5 535.4,666.5 536.9,666.5 538.5,666.5 540.0,666.5 541.5,666.5 543.0,666.5 544.5,666.5 546.0,666.5 547.5,666.5 549.0,666.5 550.5,666.5 552.0,666.5 553.5,666.5 555.0,666.5 556.5,666.5 558.0,666.5 559.5,666.5 561.0,666.5" stroke="#0000ff" stroke-width="3.2" fill="none" stroke-linejoin="round" stroke-linecap="butt"/><text x="70" y="692.7" font-size="29.5" text-anchor="end" fill="#000" >0</text>
<text x="70" y="558.2" font-size="29.5" text-anchor="end" fill="#000" >0.2</text>
<text x="70" y="423.70000000000005" font-size="29.5" text-anchor="end" fill="#000" >0.4</text>
<text x="70" y="289.2" font-size="29.5" text-anchor="end" fill="#000" >0.6</text>
<text x="70" y="154.70000000000002" font-size="29.5" text-anchor="end" fill="#000" >0.8</text>
<text x="68" y="20.200000000000024" font-size="29.5" text-anchor="end" fill="#000" >1</text>
<text x="79.5" y="718.5" font-size="29.5" text-anchor="middle" fill="#000" >360</text>
<text x="240.03333333333333" y="718.5" font-size="29.5" text-anchor="middle" fill="#000" >370</text>
<text x="400.56666666666666" y="718.5" font-size="29.5" text-anchor="middle" fill="#000" >380</text>
<text x="561.1" y="718.5" font-size="29.5" text-anchor="middle" fill="#000" >390</text>
<text x="319.8" y="756" font-size="31" text-anchor="middle" fill="#000" ><tspan font-style="italic">T</tspan> (K)</text>
<text x="22.5" y="345.1" font-size="31" text-anchor="middle" fill="#000" transform="rotate(-90 22.5 345.1)">Endothermic Heat Flow (arb. units)</text>
<text x="84.6" y="304.8" font-size="29" text-anchor="start" fill="#ff0000" >Bulk NaCB<tspan font-size="18.5" dy="5.5">11</tspan><tspan dy="-5.5">​</tspan>H<tspan font-size="18.5" dy="5.5">12</tspan><tspan dy="-5.5">​</tspan></text>
<text x="85.3" y="452.7" font-size="29" text-anchor="start" fill="#0000ff" >NaCB<tspan font-size="18.5" dy="5.5">11</tspan><tspan dy="-5.5">​</tspan>H<tspan font-size="18.5" dy="5.5">12</tspan><tspan dy="-5.5">​</tspan>@SBA-15</text>
<text x="103.6" y="490.6" font-size="29" text-anchor="start" fill="#0000ff" >2 cm<tspan font-size="18" dy="-11">3</tspan><tspan dy="11">​</tspan>/g</text>
<text x="325.5" y="490.6" font-size="29" text-anchor="end" fill="#0000ff" >222 %</text>
<text x="101.7" y="544.8" font-size="29" text-anchor="start" fill="#0000ff" >1.5 cm<tspan font-size="18" dy="-11">3</tspan><tspan dy="11">​</tspan>/g</text>
<text x="325.5" y="544.8" font-size="29" text-anchor="end" fill="#0000ff" >167 %</text>
<text x="101.7" y="597.5" font-size="29" text-anchor="start" fill="#0000ff" >1.2 cm<tspan font-size="18" dy="-11">3</tspan><tspan dy="11">​</tspan>/g</text>
<text x="325.5" y="597.5" font-size="29" text-anchor="end" fill="#0000ff" >133 %</text>
<text x="103.3" y="654" font-size="29" text-anchor="start" fill="#0000ff" >0.9 cm<tspan font-size="18" dy="-11">3</tspan><tspan dy="11">​</tspan>/g</text>
<text x="325.5" y="654" font-size="29" text-anchor="end" fill="#0000ff" >100 %</text></svg>

</body></html>
